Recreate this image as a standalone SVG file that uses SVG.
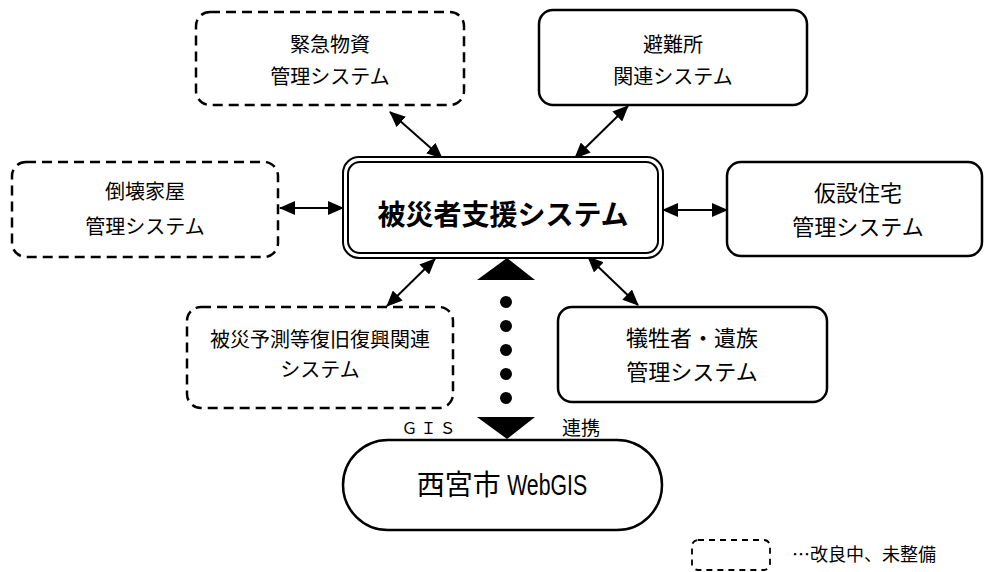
<svg xmlns="http://www.w3.org/2000/svg" width="985" height="572" viewBox="0 0 985 572">
<defs>
<marker id="ah" viewBox="0 0 16 14" refX="15" refY="7" markerWidth="16" markerHeight="14" markerUnits="userSpaceOnUse" orient="auto-start-reverse">
<path d="M0,0 L16,7 L0,14 Z" fill="#000"/>
</marker>
</defs>
<style>
text{font-family:"Noto Sans CJK JP","Noto Sans",sans-serif;fill:#000;text-anchor:middle}
.t20{font-size:20px}
.t22{font-size:22px}
.box{fill:#fff;stroke:#000;stroke-width:2.5}
.dash{fill:#fff;stroke:#000;stroke-width:2.5;stroke-dasharray:10 6}
.conn{stroke:#000;stroke-width:2;fill:none;marker-start:url(#ah);marker-end:url(#ah)}
</style>
<rect width="985" height="572" fill="#fff"/>

<g id="connectors">
<line class="conn" x1="280" y1="208" x2="343" y2="208"/>
<line class="conn" x1="663" y1="210" x2="727" y2="210"/>
<line class="conn" x1="390" y1="112" x2="442" y2="158"/>
<line class="conn" x1="628" y1="106" x2="575" y2="158"/>
<line class="conn" x1="387" y1="306" x2="435" y2="259"/>
<line class="conn" x1="588" y1="257" x2="638" y2="305"/>
<g id="gis-link">
<polygon points="507,258 535,280 477,280" fill="#000"/>
<circle cx="506" cy="302" r="6" fill="#000"/>
<circle cx="506" cy="326" r="6" fill="#000"/>
<circle cx="506" cy="350" r="6" fill="#000"/>
<circle cx="506" cy="374" r="6" fill="#000"/>
<circle cx="506" cy="398" r="6" fill="#000"/>
<polygon points="477,417 535,417 507,439" fill="#000"/>
<text x="430" y="434" style="font-size:16px" letter-spacing="3">ＧＩＳ</text>
<text x="581" y="435" style="font-size:19px">連携</text>
</g>
</g>

<g id="kinkyu">
<rect class="dash" x="196" y="12" width="268" height="93" rx="14"/>
<text class="t20" x="330" y="52">緊急物資</text>
<text class="t20" x="330" y="84">管理システム</text>
</g>

<g id="hinanjo">
<rect class="box" x="539" y="10" width="268" height="95" rx="14"/>
<text class="t20" x="673" y="52">避難所</text>
<text class="t20" x="673" y="84">関連システム</text>
</g>

<g id="toukai">
<rect class="dash" x="12" y="162" width="266" height="95" rx="14"/>
<text class="t20" x="145" y="199">倒壊家屋</text>
<text class="t20" x="145" y="234">管理システム</text>
</g>

<g id="center">
<rect fill="#fff" stroke="#000" stroke-width="2" x="343" y="157" width="320" height="101" rx="16"/>
<rect fill="none" stroke="#000" stroke-width="2" x="348" y="162" width="310" height="91" rx="12"/>
<text x="503" y="225" style="font-size:28px;font-weight:bold">被災者支援システム</text>
</g>

<g id="kasetsu">
<rect class="box" x="727" y="162" width="255" height="94" rx="14"/>
<text class="t22" x="858" y="201">仮設住宅</text>
<text class="t22" x="858" y="235">管理システム</text>
</g>

<g id="yosoku">
<rect class="dash" x="187" y="307" width="266" height="101" rx="14"/>
<text class="t20" x="320" y="347">被災予測等復旧復興関連</text>
<text class="t20" x="320" y="377">システム</text>
</g>

<g id="giseisha">
<rect class="box" x="558" y="307" width="269" height="95" rx="14"/>
<text class="t22" x="692" y="346">犠牲者・遺族</text>
<text class="t22" x="692" y="380">管理システム</text>
</g>

<g id="webgis">
<rect class="box" x="343" y="440" width="319" height="90" rx="45"/>
<text x="502" y="495" style="font-size:28px">西宮市 <tspan textLength="80" lengthAdjust="spacingAndGlyphs" style="font-family:'Liberation Sans',sans-serif;font-size:30px">WebGIS</tspan></text>
</g>

<g id="legend">
<rect fill="#fff" stroke="#000" stroke-width="1.8" stroke-dasharray="6 5" x="692" y="540" width="78" height="30" rx="6"/>
<text x="792" y="561" style="font-size:18px;text-anchor:start">…改良中、未整備</text>
</g>
</svg>
